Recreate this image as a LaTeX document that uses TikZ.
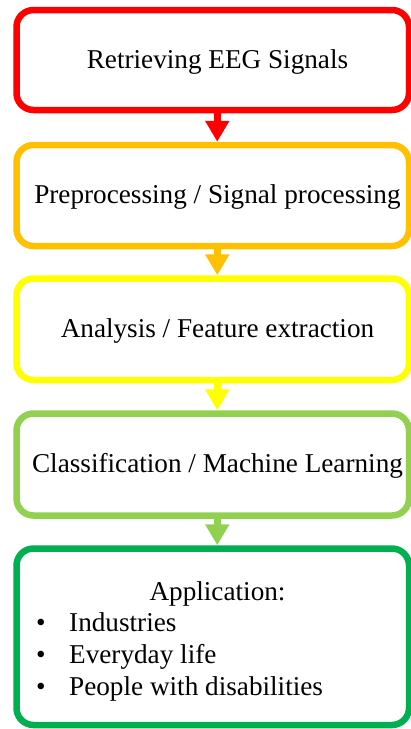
\documentclass[tikz,border=0pt]{standalone}
\usepackage{fontspec}
\setmainfont{Liberation Serif}
\usetikzlibrary{arrows.meta}
\definecolor{cred}{HTML}{FF0000}
\definecolor{corange}{HTML}{FFC000}
\definecolor{cyellow}{HTML}{FFFF00}
\definecolor{clgreen}{HTML}{92D050}
\definecolor{cgreen}{HTML}{00B050}
\begin{document}
\begin{tikzpicture}[x=1pt,y=-1pt,
  stage/.style={draw, line width=6.5pt, rounded corners=17pt, minimum width=392.5pt, inner sep=0pt, text=black},
  stagetext/.style={font=\fontsize{27.2}{32}\selectfont, text height=22pt, text depth=6pt, execute at begin node={\hspace*{9.5pt}}},
  txt/.style={font=\fontsize{27.2}{32}\selectfont, inner sep=0pt, text=black},
  flow/.style={line width=6.5pt, -{Triangle[length=21pt,width=23pt]}}
]
\useasboundingbox (0,0) rectangle (411,729);
\node[stage, stagetext, draw=cred, minimum height=100pt] (b1) at (212.75,60) {Retrieving EEG Signals};
\node[stage, stagetext, draw=corange, minimum height=101pt] (b2) at (212.75,195.5) {Preprocessing / Signal processing};
\node[stage, stagetext, draw=cyellow, minimum height=101.5pt] (b3) at (212.75,329.25) {Analysis / Feature extraction};
\node[stage, stagetext, draw=clgreen, minimum height=102pt] (b4) at (212.75,464.5) {Classification / Machine Learning};
\node[stage, draw=cgreen, minimum height=176.5pt] (b5) at (212.75,636.75) {};
\node[txt, anchor=base] (app) at (217.5,600) {Application:};
\node[txt, anchor=base west, align=left] (list) at (36,695.7)
  {\makebox[33pt][l]{\textbullet}Industries\\
   \makebox[33pt][l]{\textbullet}Everyday life\\
   \makebox[33pt][l]{\textbullet}People with disabilities};
\draw[flow, cred] ([xshift=4.5pt]b1.south) -- ([xshift=4.5pt]b2.north);
\draw[flow, corange] ([xshift=4.5pt]b2.south) -- ([xshift=4.5pt]b3.north);
\draw[flow, cyellow] ([xshift=4.5pt]b3.south) -- ([xshift=4.5pt]b4.north);
\draw[flow, clgreen] ([xshift=4.5pt]b4.south) -- ([xshift=4.5pt]b5.north);
\end{tikzpicture}
\end{document}
